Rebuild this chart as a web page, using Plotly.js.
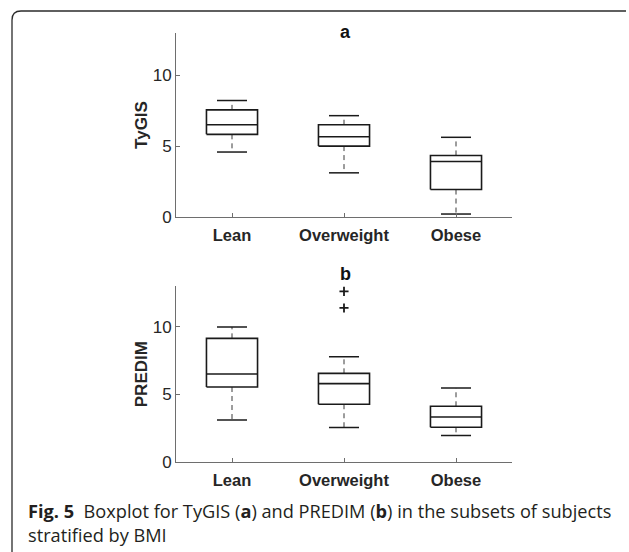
<!DOCTYPE html>
<html>
<head>
<meta charset="utf-8">
<script src="https://cdn.plot.ly/plotly-3.0.1.min.js"></script>
<style>
html,body{margin:0;padding:0;background:#fff;}
#chart{width:629px;height:552px;}
</style>
</head>
<body>
<div id="chart"></div>
<script>
// ---- data ----
var categories = ['Lean', 'Overweight', 'Obese'];

var tygisLower  = [4.59, 3.12, 0.21];
var tygisQ1     = [5.84, 5.01, 1.94];
var tygisMedian = [6.52, 5.67, 3.92];
var tygisQ3     = [7.57, 6.52, 4.35];
var tygisUpper  = [8.23, 7.16, 5.63];
var tygisOutliers = [[], [], []];

var predimLower  = [3.12, 2.56, 1.97];
var predimQ1     = [5.55, 4.28, 2.58];
var predimMedian = [6.51, 5.80, 3.34];
var predimQ3     = [9.14, 6.56, 4.13];
var predimUpper  = [9.98, 7.79, 5.48];
var predimOutliers = [[], [12.60, 11.38], []];

var yTicks = [0, 5, 10];

// ---- styling constants ----
var W = 629, H = 552;
var BOX_HW = 0.228, CAP_HW = 0.134;
var INK = '#1a1a1a', AXIS = '#6e6e6e', TXT = '#262626';
function px(x) { return x / W; }
function py(y) { return 1 - y / H; }

function panelTraces(lower, q1, med, q3, upper, outl, xa, ya) {
  var bx = [], by = [], wx = [], wy = [], cx = [], cy = [], ox = [], oy = [];
  for (var i = 0; i < categories.length; i++) {
    var c = i + 1;
    bx.push(c - BOX_HW, c + BOX_HW, c + BOX_HW, c - BOX_HW, c - BOX_HW, null);
    by.push(q1[i], q1[i], q3[i], q3[i], q1[i], null);
    bx.push(c - BOX_HW, c + BOX_HW, null);
    by.push(med[i], med[i], null);
    wx.push(c, c, null, c, c, null);
    wy.push(q3[i], upper[i], null, q1[i], lower[i], null);
    cx.push(c - CAP_HW, c + CAP_HW, null, c - CAP_HW, c + CAP_HW, null);
    cy.push(upper[i], upper[i], null, lower[i], lower[i], null);
    for (var k = 0; k < outl[i].length; k++) { ox.push(c); oy.push(outl[i][k]); }
  }
  var base = {xaxis: xa, yaxis: ya, type: 'scatter', hoverinfo: 'skip', showlegend: false};
  return [
    Object.assign({}, base, {x: wx, y: wy, mode: 'lines', line: {color: '#3a3a3a', width: 1, dash: '5px,4px'}}),
    Object.assign({}, base, {x: cx, y: cy, mode: 'lines', line: {color: INK, width: 1.5}}),
    Object.assign({}, base, {x: bx, y: by, mode: 'lines', line: {color: INK, width: 1.6}}),
    Object.assign({}, base, {x: ox, y: oy, mode: 'markers',
      marker: {symbol: 'cross-thin', size: 6.5, color: INK, line: {color: INK, width: 1.8}}})
  ];
}

var traces = []
  .concat(panelTraces(tygisLower, tygisQ1, tygisMedian, tygisQ3, tygisUpper, tygisOutliers, 'x', 'y'))
  .concat(panelTraces(predimLower, predimQ1, predimMedian, predimQ3, predimUpper, predimOutliers, 'x2', 'y2'));

var tickFont = {family: 'Liberation Sans, Arial, sans-serif', size: 17, color: TXT};
var catFont = {family: 'Liberation Sans, Arial, sans-serif', size: 16.5, color: TXT, weight: 'bold'};
var titleFont = {family: 'Liberation Sans, Arial, sans-serif', size: 17, color: TXT, weight: 'bold'};
var headFont = {family: 'Liberation Sans, Arial, sans-serif', size: 18, color: '#111', weight: 'bold'};

function xAxis(anchor) {
  return {
    domain: [px(176), px(512)], anchor: anchor, range: [0.5, 3.5],
    tickmode: 'array', tickvals: [1, 2, 3], ticktext: categories,
    showline: true, linecolor: AXIS, linewidth: 1, zeroline: false, showgrid: false,
    ticks: 'inside', ticklen: 4, tickcolor: AXIS, tickwidth: 1,
    ticklabelstandoff: 3,
    tickfont: catFont, fixedrange: true
  };
}
function yAxis(anchor, d0, d1, title) {
  return {
    domain: [d0, d1], anchor: anchor, range: [0, 13],
    tickmode: 'array', tickvals: yTicks,
    showline: true, linecolor: AXIS, linewidth: 1, zeroline: false, showgrid: false,
    ticks: 'inside', ticklen: 4, tickcolor: AXIS, tickwidth: 1,
    tickfont: tickFont, fixedrange: true,
    title: {text: title, font: titleFont, standoff: 0}
  };
}

var layout = {
  width: W, height: H,
  margin: {l: 0, r: 0, t: 0, b: 0},
  paper_bgcolor: '#fff', plot_bgcolor: '#fff',
  showlegend: false,
  xaxis: xAxis('y'),
  yaxis: yAxis('x', py(217), py(33), 'TyGIS'),
  xaxis2: xAxis('y2'),
  yaxis2: yAxis('x2', py(462.3), py(286), 'PREDIM'),
  annotations: [
    {xref: 'paper', yref: 'paper', x: px(345), y: py(32), xanchor: 'center', yanchor: 'middle',
     text: 'a', showarrow: false, font: headFont},
    {xref: 'paper', yref: 'paper', x: px(345), y: py(274), xanchor: 'center', yanchor: 'middle',
     text: 'b', showarrow: false, font: headFont},
    {xref: 'paper', yref: 'paper', x: px(26), y: py(523), xanchor: 'left', yanchor: 'middle', align: 'left',
     text: '<b>Fig. 5</b>  Boxplot for TyGIS (<b>a</b>) and PREDIM (<b>b</b>) in the subsets of subjects<br>stratified by BMI',
     showarrow: false, font: {family: 'Open Sans, Noto Sans, sans-serif', size: 18.2, color: '#231f20'}}
  ],
  shapes: [
    {type: 'path', xref: 'paper', yref: 'paper',
     path: 'M ' + px(12) + ',' + py(552) + ' L ' + px(12) + ',' + py(20) +
           ' Q ' + px(12) + ',' + py(11) + ' ' + px(21) + ',' + py(11) +
           ' L ' + px(626) + ',' + py(11),
     line: {color: '#2b2b2b', width: 1.3}}
  ]
};

Plotly.newPlot('chart', traces, layout, {staticPlot: true, displayModeBar: false});
</script>
</body>
</html>
